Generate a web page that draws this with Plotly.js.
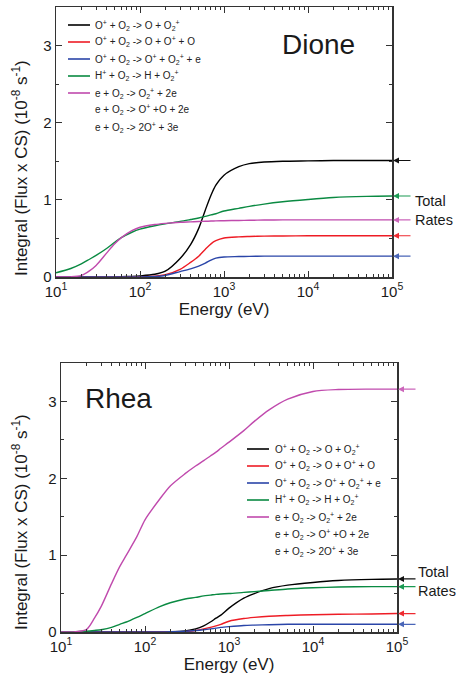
<!DOCTYPE html>
<html><head><meta charset="utf-8">
<script src="https://cdn.plot.ly/plotly-3.0.1.min.js"></script>
<style>html,body{margin:0;padding:0;background:#fff;}#chart{width:456px;height:686px;}</style>
</head><body><div id="chart"></div>
<script>
// ---- data ----
const energy = [10, 15, 20, 25, 30, 40, 50, 60, 80, 100, 150, 200, 300, 400, 500, 600, 700, 800, 1000, 1500, 2000, 3000, 5000, 10000, 20000, 50000, 100000];

// Dione
const dioneOpO2_OO2p   = [0,0,0,0,0,0.001,0.002,0.004,0.008,0.014,0.035,0.075,0.24,0.42,0.63,0.87,1.06,1.19,1.32,1.43,1.47,1.49,1.50,1.505,1.51,1.51,1.51];
const dioneOpO2_OOpO   = [0,0,0,0,0,0,0,0,0.002,0.004,0.01,0.03,0.1,0.19,0.27,0.36,0.43,0.47,0.505,0.52,0.525,0.53,0.532,0.535,0.535,0.535,0.535];
const dioneOpO2_OpO2pe = [0,0,0,0,0,0,0,0,0.001,0.002,0.008,0.02,0.07,0.105,0.14,0.18,0.22,0.245,0.26,0.265,0.268,0.27,0.27,0.27,0.27,0.27,0.27];
const dioneHpO2_HO2p   = [0.055,0.11,0.17,0.23,0.28,0.37,0.45,0.51,0.58,0.62,0.665,0.69,0.72,0.745,0.765,0.785,0.805,0.82,0.855,0.89,0.915,0.945,0.975,1.005,1.03,1.045,1.05];
const dioneEO2_O2p2e   = [0,0.002,0.02,0.08,0.15,0.31,0.43,0.51,0.6,0.645,0.68,0.695,0.71,0.715,0.72,0.722,0.725,0.727,0.73,0.733,0.735,0.738,0.74,0.74,0.74,0.74,0.74];

// Rhea
const rheaOpO2_OO2p    = [0,0,0,0,0,0,0,0,0,0,0.001,0.004,0.015,0.04,0.08,0.13,0.18,0.22,0.31,0.44,0.5,0.565,0.61,0.645,0.67,0.685,0.69];
const rheaOpO2_OOpO    = [0,0,0,0,0,0,0,0,0,0,0,0.001,0.005,0.02,0.04,0.06,0.08,0.1,0.14,0.175,0.19,0.205,0.215,0.225,0.23,0.235,0.24];
const rheaOpO2_OpO2pe  = [0,0,0,0,0,0,0,0,0,0,0,0.003,0.01,0.02,0.03,0.04,0.05,0.06,0.07,0.085,0.09,0.095,0.1,0.1,0.1,0.1,0.1];
const rheaHpO2_HO2p    = [0,0.003,0.01,0.02,0.03,0.06,0.1,0.13,0.19,0.24,0.33,0.38,0.43,0.45,0.47,0.48,0.49,0.495,0.5,0.515,0.525,0.54,0.56,0.575,0.585,0.59,0.59];
const rheaEO2_O2p2e    = [0,0.005,0.03,0.18,0.33,0.63,0.85,1.0,1.24,1.46,1.73,1.9,2.06,2.16,2.23,2.29,2.34,2.39,2.47,2.62,2.74,2.89,3.03,3.13,3.155,3.16,3.16];

const reactionLabels = [
  'O<sup>+</sup> + O<sub>2</sub> -> O + O<sub>2</sub><sup>+</sup>',
  'O<sup>+</sup> + O<sub>2</sub> -> O + O<sup>+</sup> + O',
  'O<sup>+</sup> + O<sub>2</sub> -> O<sup>+</sup> + O<sub>2</sub><sup>+</sup> + e',
  'H<sup>+</sup> + O<sub>2</sub> -> H + O<sub>2</sub><sup>+</sup>',
  'e + O<sub>2</sub> -> O<sub>2</sub><sup>+</sup> + 2e',
  'e + O<sub>2</sub> -> O<sup>+</sup> +O + 2e',
  'e + O<sub>2</sub> -> 2O<sup>+</sup> + 3e'
];
const xTickVals = [10, 100, 1000, 10000, 100000];
const xTickText = ['10<sup>1</sup>','10<sup>2</sup>','10<sup>3</sup>','10<sup>4</sup>','10<sup>5</sup>'];
const panelNames = ['Dione', 'Rhea'];

// ---- styling ----
const colors = ['#000000', '#ee1c25', '#2a45a8', '#0a8a42', '#c04aad'];
const arrowColors = ['#111111', '#ee2a30', '#4a66b8', '#1a9a52', '#cc66bb'];
const W = 456, H = 686;
const FONT = 'Liberation Sans, Arial, sans-serif';
const px = x => x / W, py = y => 1 - y / H;

const minorVals = [];
for (let d = 1; d < 5; d++) for (let k = 2; k <= 9; k++) minorVals.push(k * Math.pow(10, d));

const panels = [
  {series: [dioneOpO2_OO2p, dioneOpO2_OOpO, dioneOpO2_OpO2pe, dioneHpO2_HO2p, dioneEO2_O2p2e],
   xs: 'x', ys: 'y', xl: 56, xr: 392, yt: 7, yb: 277},
  {series: [rheaOpO2_OO2p, rheaOpO2_OOpO, rheaOpO2_OpO2pe, rheaHpO2_HO2p, rheaEO2_O2p2e],
   xs: 'x2', ys: 'y2', xl: 61, xr: 397, yt: 363, yb: 632}
];

const traces = [];
panels.forEach(p => {
  p.series.forEach((s, i) => {
    traces.push({x: energy, y: s, type: 'scatter', mode: 'lines', xaxis: p.xs, yaxis: p.ys,
      line: {color: colors[i], width: 1.4, shape: 'spline', smoothing: 0.8},
      name: reactionLabels[i], showlegend: false, hoverinfo: 'skip'});
  });
});

function xAxis(p, anchor) {
  return {type: 'log', range: [1, 5], domain: [px(p.xl), px(p.xr)], anchor: anchor,
    tickmode: 'array', tickvals: xTickVals, ticktext: xTickText,
    ticks: 'inside', ticklen: 6, tickwidth: 1, tickcolor: '#333',
    minor: {tickmode: 'array', tickvals: minorVals, ticks: 'inside', ticklen: 3, tickcolor: '#333', tickwidth: 1},
    mirror: 'allticks', showline: true, linecolor: '#333', linewidth: 1.5,
    showgrid: false, zeroline: false,
    tickfont: {family: FONT, size: 15, color: '#1a1a1a'},
    title: {text: 'Energy (eV)', font: {family: FONT, size: 17, color: '#1a1a1a'}, standoff: 4}};
}
function yAxis(p, anchor) {
  return {range: [0, 3.5], domain: [py(p.yb), py(p.yt)], anchor: anchor,
    tickmode: 'linear', tick0: 0, dtick: 1,
    ticks: 'inside', ticklen: 6, tickwidth: 1, tickcolor: '#333',
    minor: {dtick: 0.5, ticks: 'inside', ticklen: 3, tickcolor: '#333', tickwidth: 1},
    mirror: 'allticks', showline: true, linecolor: '#333', linewidth: 1.5,
    showgrid: false, zeroline: false,
    tickfont: {family: FONT, size: 15, color: '#1a1a1a'}};
}

const annotations = [], shapes = [];
const legendPos = [
  {lineX0: 68, lineX1: 90, textX: 93, y0: 25, dy: 17},
  {lineX0: 247, lineX1: 269, textX: 273, y0: 449, dy: 17}
];
const titlePos = [{x: 318, y: 45}, {x: 119, y: 398}];
const yTitlePos = [{x: 20, y: 168}, {x: 20, y: 522}];
const ratesPos = [{x: 413, y: 210}, {x: 416, y: 581}];

panels.forEach((p, k) => {
  const lp = legendPos[k];
  reactionLabels.forEach((lab, i) => {
    const yy = lp.y0 + i * lp.dy;
    if (i < colors.length) {
      shapes.push({type: 'line', xref: 'paper', yref: 'paper', x0: px(lp.lineX0), x1: px(lp.lineX1),
        y0: py(yy), y1: py(yy), line: {color: colors[i], width: 1.6}});
    }
    annotations.push({xref: 'paper', yref: 'paper', x: px(lp.textX), y: py(yy), xanchor: 'left', yanchor: 'middle',
      text: lab, showarrow: false, font: {family: FONT, size: 10, color: '#222'}});
  });
  annotations.push({xref: 'paper', yref: 'paper', x: px(titlePos[k].x), y: py(titlePos[k].y), xanchor: 'center', yanchor: 'middle',
    text: panelNames[k], showarrow: false, font: {family: FONT, size: 28, color: '#1a1a1a'}});
  annotations.push({xref: 'paper', yref: 'paper', x: px(yTitlePos[k].x), y: py(yTitlePos[k].y), xanchor: 'center', yanchor: 'middle',
    textangle: -90, text: 'Integral (Flux x CS) (10<sup>-8</sup> s<sup>-1</sup>)', showarrow: false,
    font: {family: FONT, size: 17, color: '#1a1a1a'}});
  p.series.forEach((s, i) => {
    annotations.push({xref: p.xs + ' domain', yref: p.ys, x: 1, y: s[s.length - 1], ax: 20, ay: 0,
      text: '', showarrow: true, arrowhead: 2, arrowsize: 1, arrowwidth: 1.2, arrowcolor: arrowColors[i], standoff: 1});
  });
  annotations.push({xref: 'paper', yref: 'paper', x: px(ratesPos[k].x), y: py(ratesPos[k].y), xanchor: 'left', yanchor: 'middle',
    align: 'left', text: 'Total<br>Rates', showarrow: false, font: {family: FONT, size: 14.5, color: '#1a1a1a'}});
});

const layout = {
  width: W, height: H, margin: {l: 0, r: 0, t: 0, b: 0},
  paper_bgcolor: '#fff', plot_bgcolor: '#fff', showlegend: false,
  font: {family: FONT},
  xaxis: xAxis(panels[0], 'y'), yaxis: yAxis(panels[0], 'x'),
  xaxis2: xAxis(panels[1], 'y2'), yaxis2: yAxis(panels[1], 'x2'),
  annotations: annotations, shapes: shapes
};
Plotly.newPlot('chart', traces, layout, {displayModeBar: false, staticPlot: true});
</script>
</body></html>
